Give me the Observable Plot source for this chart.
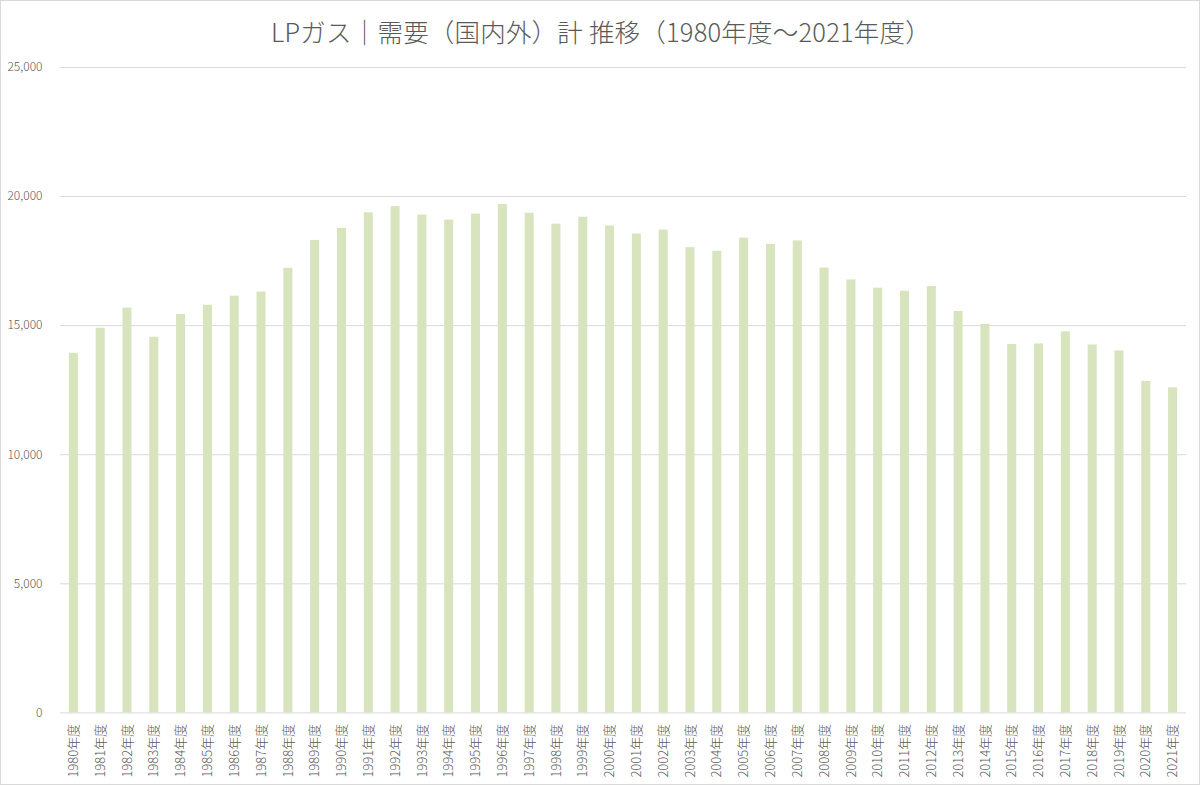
<!DOCTYPE html>
<html>
<head>
<meta charset="utf-8">
<script src="https://cdn.jsdelivr.net/npm/d3@7"></script>
<script src="https://cdn.jsdelivr.net/npm/@observablehq/plot@0.6"></script>
<style>
  html, body { margin: 0; padding: 0; background: #fff; }
  #wrap { position: relative; width: 1200px; height: 785px; box-sizing: border-box; border: 1px solid #d9d9d9; overflow: hidden; }
  #title { position: absolute; left: 0; top: 13px; width: 1200px; text-align: center; font-family: "Noto Sans CJK JP", "Noto Sans", sans-serif; font-weight: 300; font-size: 25.5px; line-height: 34px; color: #595959; letter-spacing: 0.2px; }
  #chart { position: absolute; left: -1px; top: -1px; }
  svg { font-family: "Noto Sans CJK JP", "Noto Sans", sans-serif; font-weight: 300; }
</style>
</head>
<body>
<div id="wrap">
  <div id="title">LPガス｜需要（国内外）計 推移（1980年度～2021年度）</div>
  <div id="chart"></div>
</div>
<script>
const years = d3.range(1980, 2022).map(y => y + "年度");
const demand = [
  13930, 14900, 15680, 14550, 15430, 15790, 16140, 16300, 17220, 18300,
  18770, 19370, 19610, 19280, 19090, 19320, 19690, 19350, 18930, 19200,
  18860, 18550, 18700, 18020, 17880, 18390, 18150, 18280, 17230, 16770,
  16450, 16330, 16520, 15550, 15050, 14270, 14290, 14760, 14250, 14020,
  12840, 12590
];
const yTicks = [0, 5000, 10000, 15000, 20000, 25000];

const data = years.map((label, i) => ({label, value: demand[i]}));

const chart = Plot.plot({
  width: 1200,
  height: 785,
  marginTop: 67,
  marginBottom: 72,
  marginLeft: 60,
  marginRight: 13,
  style: {fontSize: "12px", color: "#595959", background: "transparent"},
  x: {domain: years, padding: 0, label: null},
  y: {domain: [0, 25000], label: null},
  marks: [
    Plot.gridY(yTicks, {stroke: "#d9d9d9", strokeOpacity: 1, strokeWidth: 1}),
    Plot.barY(data, {x: "label", y: "value", fill: "#d7e4bd", insetLeft: 8.9, insetRight: 8.9}),
    Plot.axisY(yTicks, {tickSize: 0, tickPadding: 18, tickFormat: d3.format(","), fontSize: 12, fill: "#595959"}),
    Plot.axisX({tickSize: 0, tickPadding: 11, tickRotate: -90, fontSize: 13, fill: "#595959", textAnchor: "end"})
  ]
});
document.getElementById("chart").appendChild(chart);
</script>
</body>
</html>
